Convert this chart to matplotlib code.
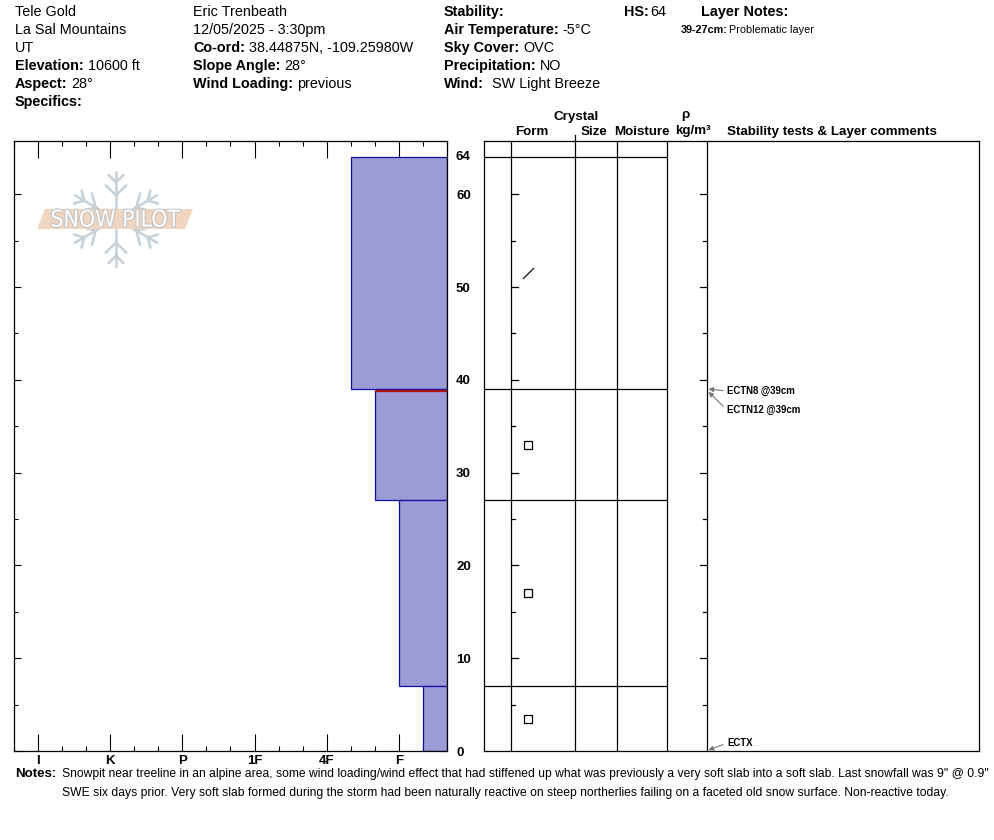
import matplotlib
matplotlib.use("Agg")
import matplotlib.pyplot as plt
import matplotlib.patheffects as pe
from matplotlib.patches import Polygon
from matplotlib.transforms import Affine2D
import numpy as np

plt.rcParams['font.family'] = ['Liberation Sans', 'DejaVu Sans']

W, H = 994, 840

# --- snow profile data ---
hardness_scale = ['I', 'K', 'P', '1F', '4F', 'F']
layer_top = [64, 39, 27, 7]
layer_bottom = [39, 27, 7, 0]
layer_hardness = ['4F-', 'F+', 'F', 'F-']
grain_forms = ['/', 'box', 'box', 'box']
problem_top = 39          # problematic layer 39-27cm
hs = 64

tests = ['ECTN8', 'ECTN12', 'ECTX']
test_depths = [39, 39, 0]

depth_ticks = list(range(0, 61, 10))


def hard_pos(code):
    base = hardness_scale.index(code.rstrip('+-'))
    if code.endswith('+'):
        return base - 1 / 3
    if code.endswith('-'):
        return base + 1 / 3
    return base


fig = plt.figure(figsize=(W / 100, H / 100), dpi=100)
renderer = fig.canvas.get_renderer()
pix = Affine2D().scale(1, -1).translate(0, H)   # pixel coords, y down


def put(px, py, s, bold=False, size=10.4, **kw):
    return fig.text(px / W, 1 - py / H, s, fontsize=size,
                    fontweight='bold' if bold else 'normal',
                    va='center', ha='left', **kw)


def pair(px, py, label, value, size=10.4, gap=4):
    t = put(px, py, label, bold=True, size=size)
    bb = t.get_window_extent(renderer)
    put(bb.x1 + gap, py, value, size=size)


# --- header ---
put(15, 12, 'Tele Gold')
put(15, 30, 'La Sal Mountains')
put(15, 48, 'UT')
pair(15, 66, 'Elevation:', '10600 ft')
pair(15, 84, 'Aspect:', '28°')
put(15, 102, 'Specifics:', bold=True)

put(193, 12, 'Eric Trenbeath')
put(193, 30, '12/05/2025 - 3:30pm')
pair(193, 48, 'Co-ord:', '38.44875N, -109.25980W')
pair(193, 66, 'Slope Angle:', '28°')
pair(193, 84, 'Wind Loading:', 'previous')

put(444, 12, 'Stability:', bold=True)
pair(444, 30, 'Air Temperature:', '-5°C')
pair(444, 48, 'Sky Cover:', 'OVC')
pair(444, 66, 'Precipitation:', 'NO')
pair(444, 84, 'Wind:', ' SW Light Breeze')
pair(624, 12, 'HS:', str(hs), gap=1)
put(701, 12, 'Layer Notes:', bold=True)
pair(681, 30, '39-27cm:', 'Problematic layer', size=7.8, gap=1)

# --- hardness panel ---
ax = fig.add_axes([14 / W, 1 - 751 / H, (447 - 14) / W, (751 - 141) / H])
ymax = (751 - 141) / 9.28
xr = len(hardness_scale) - 1 + 2 / 3
ax.set_xlim(-1 / 3, xr)
ax.set_ylim(0, ymax)

for top, bot, hcode in zip(layer_top, layer_bottom, layer_hardness):
    x0 = hard_pos(hcode)
    ax.bar(x0, top - bot, width=xr - x0, bottom=bot, align='edge',
           color='#9b9bd6', edgecolor='#1010a0', linewidth=0.9, zorder=2)
pidx = layer_top.index(problem_top)
ax.plot([hard_pos(layer_hardness[pidx]), xr], [problem_top - 0.2] * 2,
        color='#b01010', lw=1.6, zorder=3, solid_capstyle='butt')

ax.set_xticks(range(len(hardness_scale)), labels=hardness_scale,
              fontsize=9.5, fontweight='bold')
minor_x = [k + d for k in range(-1, len(hardness_scale)) for d in (1 / 3, 2 / 3)]
ax.set_xticks([m for m in minor_x if -0.4 < m < xr + 0.01], minor=True)
ax.tick_params(axis='x', which='major', direction='in', length=12.5,
               width=0.8, top=True, bottom=True, pad=3)
ax.tick_params(axis='x', which='minor', direction='in', length=3.6,
               width=0.8, top=True, bottom=True)
ax.set_yticks(depth_ticks, labels=[str(d) for d in depth_ticks],
              fontsize=9.5, fontweight='bold')
ax.set_yticks(range(5, 61, 10), minor=True)
ax.tick_params(axis='y', which='major', direction='in', length=5.2, width=0.8,
               left=True, right=True, labelleft=False, labelright=True, pad=6.5)
ax.tick_params(axis='y', which='minor', direction='in', length=3.0, width=0.8,
               left=True, right=True)
ax.text((456 - 14) / 433, hs, str(hs), transform=ax.get_yaxis_transform(),
        fontsize=9.5, fontweight='bold', va='center', ha='left')
for s in ax.spines.values():
    s.set_linewidth(0.9)

# --- SnowPilot watermark ---
cx, cy, r = 116, 219, 47
flake = '#c6d0d9'
for k in range(6):
    a = np.deg2rad(90 + 60 * k)
    ux, uy = np.cos(a), -np.sin(a)
    ax.plot([cx, cx + r * ux], [cy, cy + r * uy], color=flake, lw=1.8,
            transform=pix, clip_on=False, zorder=1)
    for t, bl in ((0.5, 0.3), (0.78, 0.22)):
        bx, by = cx + t * r * ux, cy + t * r * uy
        for s in (-1, 1):
            b = a + s * np.deg2rad(45)
            ax.plot([bx, bx + bl * r * np.cos(b)], [by, by - bl * r * np.sin(b)],
                    color=flake, lw=1.8, transform=pix, clip_on=False, zorder=1)
band = Polygon([(37, 229), (45, 209), (193, 209), (185, 229)], closed=True,
               facecolor='#f0d6c0', edgecolor='none', transform=pix, zorder=1.2)
ax.add_patch(band)
ax.text(115, 220, 'SNOW PILOT', transform=pix, fontsize=16.5, color='white',
        ha='center', va='center', family='DejaVu Sans', fontstretch='condensed',
        zorder=1.3, path_effects=[pe.withStroke(linewidth=1.6, foreground='#c4c4c4')])

# --- layer table panel ---
ax2 = fig.add_axes([484 / W, 1 - 751 / H, (979 - 484) / W, (751 - 141) / H])
ax2.set_xlim(0, 495)
ax2.set_ylim(0, ymax)
ax2.set_xticks([])
ax2.set_yticks([])
for s in ax2.spines.values():
    s.set_linewidth(0.9)

form_x, size_x, moist_x, dens_x, comm_x = 27, 91, 133, 183, 223
for c in (form_x, size_x, moist_x, dens_x, comm_x):
    ax2.axvline(c, color='black', lw=0.9)
ax2.plot([size_x, size_x], [ymax, ymax + 0.6], color='black', lw=0.9, clip_on=False)
ax2.hlines([hs] + layer_bottom[:-1], 0, dens_x, color='black', lw=0.9)
for d in range(5, 61, 5):
    L = 7 if d % 10 == 0 else 4
    ax2.plot([form_x, form_x + L], [d, d], color='black', lw=0.9)
    ax2.plot([comm_x - L, comm_x], [d, d], color='black', lw=0.9)

for top, bot, g in zip(layer_top, layer_bottom, grain_forms):
    mid = (top + bot) / 2
    if g == 'box':
        ax2.plot(44, mid, marker='s', ms=5.2, mfc='white', mec='black', mew=0.9)
    else:
        ax2.plot(44, mid, marker=[(-1, -1), (1, 1)], ms=8, mec='#222222', mew=1.0)

# stability tests
test_text_y = [38.8, 36.75, 0.86]
for name, dep, ty in zip(tests, test_depths, test_text_y):
    label = name if name.endswith('X') else f'{name} @{dep}cm'
    tip_y = dep + (0.1 if dep == 0 else (-0.3 if ty < dep - 1 else 0))
    ax2.annotate(label, xy=(comm_x + 1.5, tip_y), xytext=(243, ty),
                 fontsize=6.9, fontweight='bold', va='center', ha='left',
                 arrowprops=dict(arrowstyle='-|>', color='#777777', lw=0.8,
                                 mutation_scale=7, shrinkA=1, shrinkB=0,
                                 relpos=(0, 0.5)))

# column headers
hdr = dict(fontsize=9.6, fontweight='bold', ha='center')
fig.text(576 / W, 1 - 117 / H, 'Crystal', va='center', **hdr)
fig.text(532 / W, 1 - 132 / H, 'Form', va='center', **hdr)
fig.text(594 / W, 1 - 132 / H, 'Size', va='center', **hdr)
fig.text(642 / W, 1 - 132 / H, 'Moisture', va='center', **hdr)
fig.text(685 / W, 1 - 115 / H, 'ρ', va='center', **hdr)
fig.text(693 / W, 1 - 131 / H, 'kg/m³', va='center', **hdr)
fig.text(832 / W, 1 - 132 / H, 'Stability tests & Layer comments', va='center', **hdr)

# notes
put(15, 774, 'Notes:', bold=True, size=9.6)
put(62, 774, 'Snowpit near treeline in an alpine area, some wind loading/wind effect '
    'that had stiffened up what was previously a very soft slab into a soft slab. '
    'Last snowfall was 9" @ 0.9"', size=8.75)
put(62, 793, 'SWE six days prior. Very soft slab formed during the storm had been '
    'naturally reactive on steep northerlies failing on a faceted old snow surface. '
    'Non-reactive today.', size=8.75)

fig.savefig('out.png', dpi=100, facecolor='white')
